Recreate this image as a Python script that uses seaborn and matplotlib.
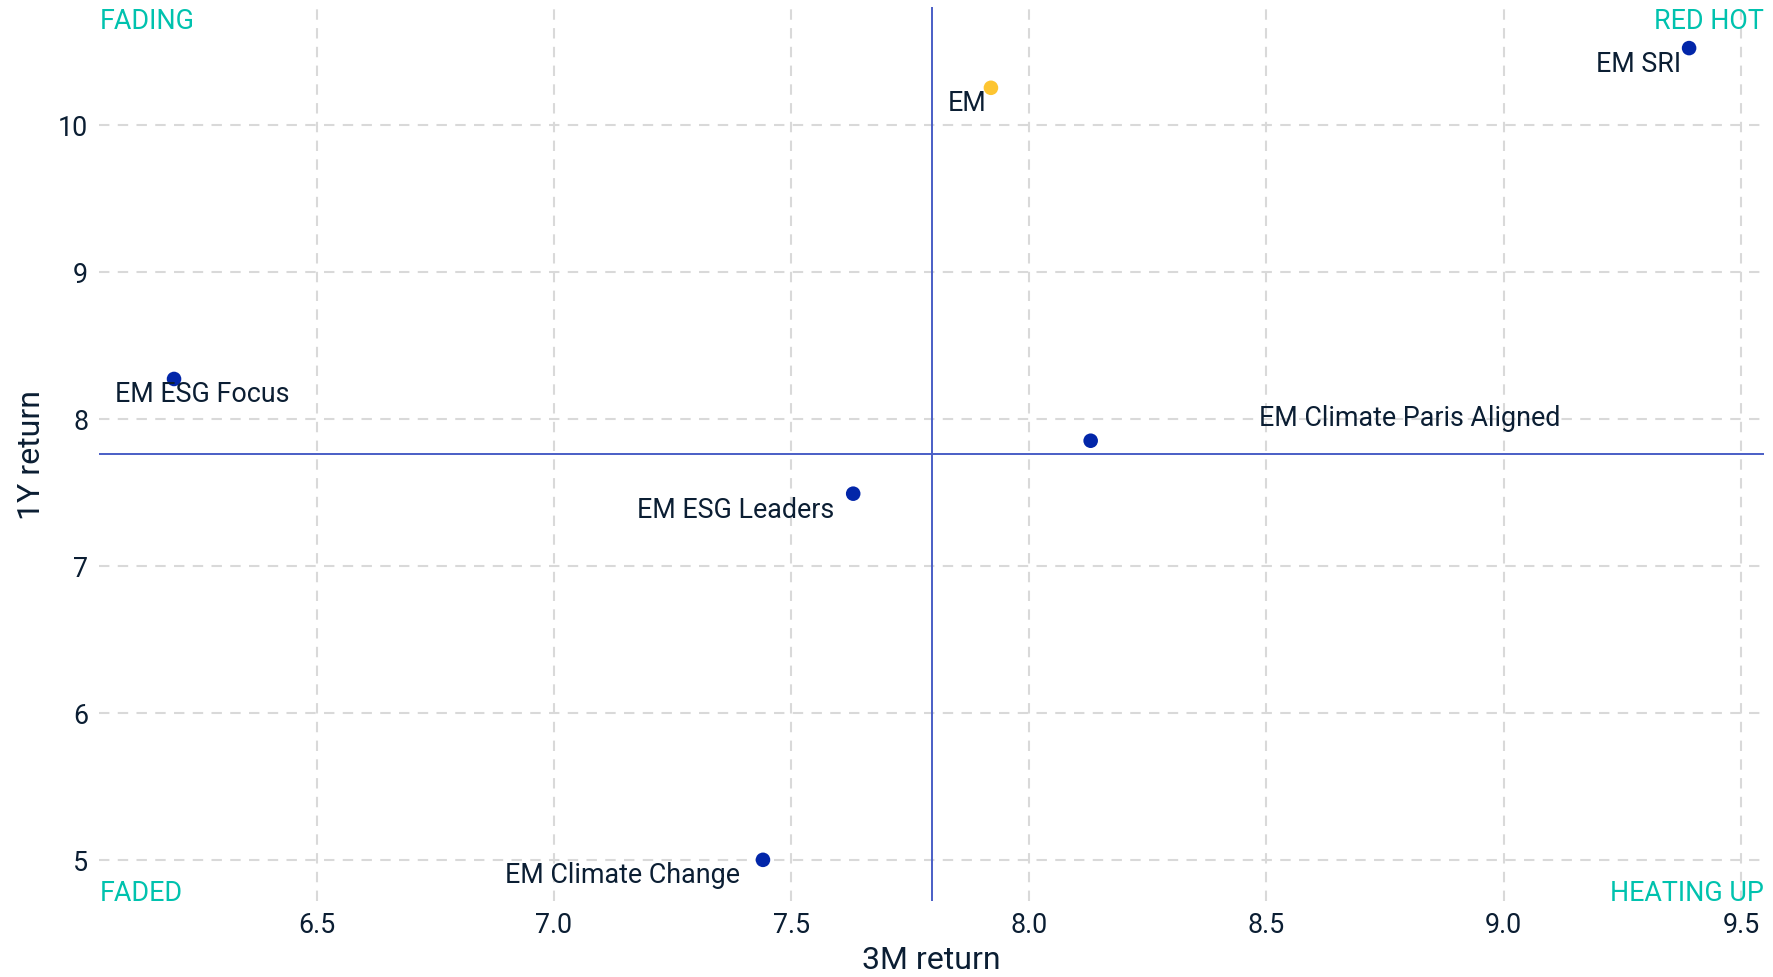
import matplotlib
matplotlib.use("Agg")
import matplotlib.pyplot as plt
import matplotlib.transforms as mtransforms
import seaborn as sns
import pandas as pd

# Index returns (%)
names = ["EM SRI", "EM", "EM ESG Focus", "EM Climate Paris Aligned",
         "EM ESG Leaders", "EM Climate Change"]
ret_3m = [9.39, 7.92, 6.20, 8.13, 7.63, 7.44]
ret_1y = [10.52, 10.25, 8.27, 7.85, 7.49, 5.00]
group = ["variant", "parent", "variant", "variant", "variant", "variant"]

# Quadrant split lines
split_3m = 7.795
split_1y = 7.76

x_ticks = [6.5, 7.0, 7.5, 8.0, 8.5, 9.0, 9.5]
y_ticks = [5, 6, 7, 8, 9, 10]

TEXT = "#0B1E33"
TEAL = "#00C2AE"
BLUE = "#0226A9"
GOLD = "#FDC531"
LINE = "#4A5EC6"
GRID = "#D9D9D9"

df = pd.DataFrame({"name": names, "r3m": ret_3m, "r1y": ret_1y, "group": group})

sns.set_theme(style="white")
plt.rcParams["font.family"] = ["Roboto", "DejaVu Sans"]

fig = plt.figure(figsize=(17.73, 9.78), dpi=100)
ax = fig.add_axes([0.0561, 0.0777, 0.9389, 0.9142])

ax.set_xlim(6.043, 9.548)
ax.set_ylim(4.72, 10.80)
ax.set_xticks(x_ticks)
ax.set_xticklabels([f"{t:.1f}" for t in x_ticks])
ax.set_yticks(y_ticks)
ax.set_yticklabels([str(t) for t in y_ticks])
ax.grid(True, color=GRID, linestyle=(0, (5, 4)), linewidth=1.5)
ax.set_axisbelow(True)
for s in ax.spines.values():
    s.set_visible(False)

ax.axvline(split_3m, color=LINE, linewidth=1.4, zorder=2)
ax.axhline(split_1y, color=LINE, linewidth=1.4, zorder=2)

sns.scatterplot(data=df, x="r3m", y="r1y", hue="group",
                palette={"variant": BLUE, "parent": GOLD},
                s=110, linewidth=0, legend=False, ax=ax, zorder=3)

# Label placement (offset in pixels from the point, alignment)
label_pos = {
    "EM SRI": (-8, -15, "right"),
    "EM": (-4, -15, "right"),
    "EM ESG Focus": (28, -15, "center"),
    "EM Climate Paris Aligned": (168, 23, "left"),
    "EM ESG Leaders": (-19, -16, "right"),
    "EM Climate Change": (-23, -15, "right"),
}
for n, xv, yv in zip(names, ret_3m, ret_1y):
    dx, dy, ha = label_pos[n]
    ax.annotate(n, (xv, yv), xytext=(dx, dy), textcoords="offset pixels",
                ha=ha, va="center", fontsize=19.4, color=TEXT, zorder=4)

# Quadrant names
qkw = dict(fontsize=19.4, color=TEAL, zorder=4)
low = ax.transAxes + mtransforms.ScaledTranslation(0, -5 / 100, fig.dpi_scale_trans)
ax.text(0.0, 1.0, "FADING", ha="left", va="top", transform=ax.transAxes, **qkw)
ax.text(1.0, 1.0, "RED HOT", ha="right", va="top", transform=ax.transAxes, **qkw)
ax.text(0.0, 0.0, "FADED", ha="left", va="bottom", transform=low, **qkw)
ax.text(1.0, 0.0, "HEATING UP", ha="right", va="bottom", transform=low, **qkw)

ax.tick_params(axis="both", length=0, labelsize=19.4, labelcolor=TEXT)
ax.tick_params(axis="x", pad=7)
ax.tick_params(axis="y", pad=8)
ax.set_xlabel("3M return", fontsize=23, color=TEXT, labelpad=5)
ax.set_ylabel("1Y return", fontsize=23, color=TEXT, labelpad=9)

fig.savefig("out.png", dpi=100, facecolor="white")
